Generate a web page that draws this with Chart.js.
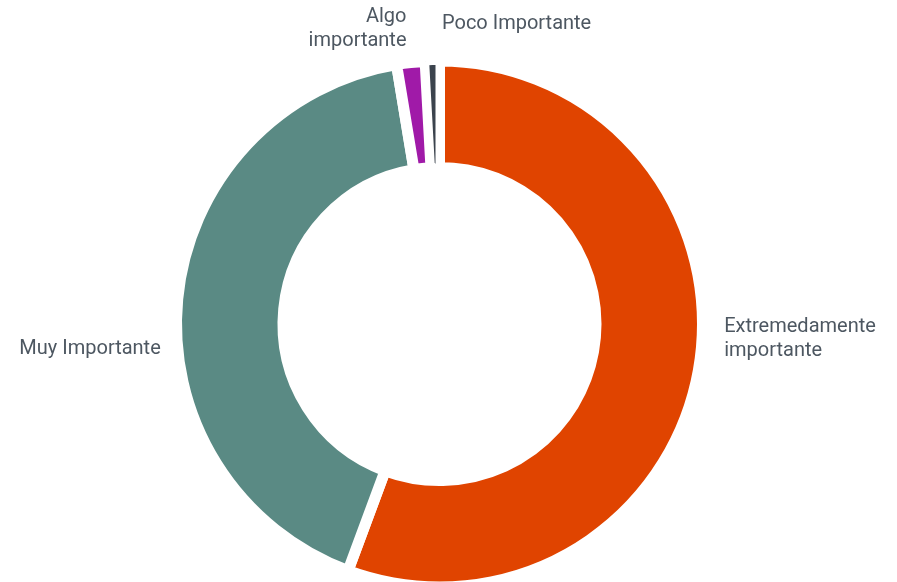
<!DOCTYPE html>
<html lang="es">
<head>
<meta charset="utf-8">
<title>Importancia</title>
<script src="https://cdn.jsdelivr.net/npm/chart.js@4/dist/chart.umd.min.js"></script>
<style>
  html, body { margin: 0; padding: 0; background: #ffffff; }
  #wrap { width: 897px; height: 582px; }
</style>
</head>
<body>
<div id="wrap"><canvas id="chart" width="897" height="582"></canvas></div>
<script>
// Survey answers: how important is it?
const categories = ['Extremedamente importante', 'Muy Importante', 'Algo importante', 'Poco Importante'];
const responses = [64, 48, 2, 1];
const labelLines = [['Extremedamente', 'importante'], ['Muy Importante'], ['Algo', 'importante'], ['Poco Importante']];

// Styling
const sliceColors = ['#e04400', '#5a8a84', '#a01aa8', '#3b434d'];
const sliceBorders = [11, 11, 11, 8];
const labelAlign = ['left', 'right', 'right', 'left'];
const labelNudge = [[14, -33.5], [-5, 51.5], [-3, -21.5], [10, -25.5]];
const labelColor = '#4d5761';
const labelFont = '20px Roboto, "Noto Sans", sans-serif';
const labelLineHeight = 24;
const labelGap = 12;

// Draws each category name outside its slice, anchored on the slice's mid-angle
const outsideLabels = {
  id: 'outsideLabels',
  afterDatasetsDraw(chart) {
    const ctx = chart.ctx;
    const arcs = chart.getDatasetMeta(0).data;
    ctx.save();
    ctx.font = labelFont;
    ctx.fillStyle = labelColor;
    ctx.textBaseline = 'middle';
    arcs.forEach((arc, i) => {
      const p = arc.getProps(['x', 'y', 'startAngle', 'endAngle', 'outerRadius'], true);
      const mid = (p.startAngle + p.endAngle) / 2;
      const r = p.outerRadius + labelGap;
      const ax = p.x + Math.cos(mid) * r + labelNudge[i][0];
      const ay = p.y + Math.sin(mid) * r + labelNudge[i][1];
      const lines = labelLines[i];
      const top = ay - (lines.length - 1) * labelLineHeight / 2;
      ctx.textAlign = labelAlign[i];
      lines.forEach((line, k) => ctx.fillText(line, ax, top + k * labelLineHeight));
    });
    ctx.restore();
  }
};

new Chart(document.getElementById('chart'), {
  type: 'doughnut',
  data: {
    labels: categories,
    datasets: [{
      data: responses,
      backgroundColor: sliceColors,
      borderColor: '#ffffff',
      borderWidth: sliceBorders,
      hoverOffset: 0
    }]
  },
  options: {
    responsive: false,
    animation: false,
    radius: 263,
    cutout: '59.5%',
    layout: { padding: { left: 0, right: 18, top: 66, bottom: 0 } },
    plugins: {
      legend: { display: false },
      tooltip: { enabled: false }
    }
  },
  plugins: [outsideLabels]
});
</script>
</body>
</html>
